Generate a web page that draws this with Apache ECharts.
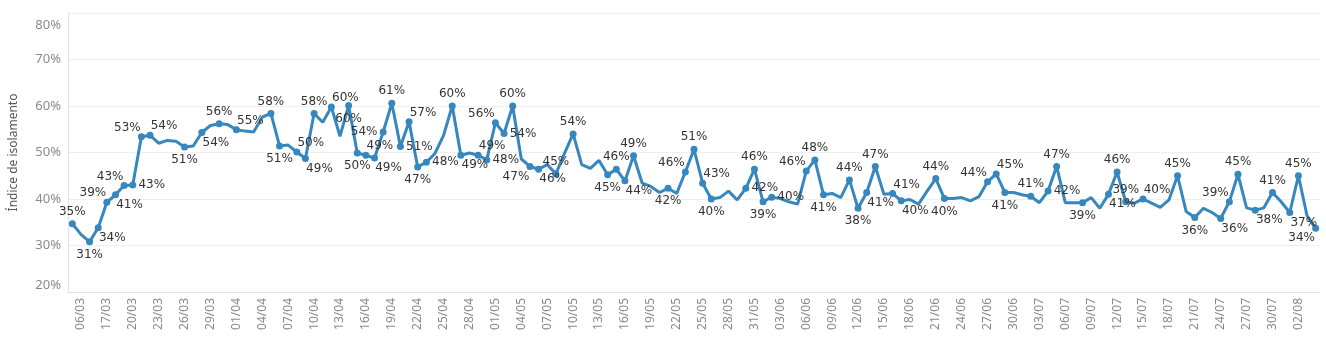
<!DOCTYPE html>
<html>
<head>
<meta charset="utf-8">
<script src="https://cdn.jsdelivr.net/npm/echarts@6/dist/echarts.min.js"></script>
<style>
  html, body { margin: 0; padding: 0; background: #fff; }
  #main { width: 1326px; height: 353px; }
</style>
</head>
<body>
<div id="main"></div>
<script>
// datas do eixo x: 05/03, 06/03, depois de 15/03 até 04/08
var datas = ['05/03', '06/03'];
var d = new Date(2020, 2, 15);
var fim = new Date(2020, 7, 4);
while (d <= fim) {
    var dd = ('0' + d.getDate()).slice(-2);
    var mm = ('0' + (d.getMonth() + 1)).slice(-2);
    datas.push(dd + '/' + mm);
    d.setDate(d.getDate() + 1);
}

// índice de isolamento (%) por dia
var indice = [
    34.7, 32.4, 30.8, 33.8, 39.3, 40.9, 42.9, 43.0, 53.4, 53.7,
    52.0, 52.6, 52.4, 51.2, 51.4, 54.3, 55.8, 56.2, 56.0, 54.9,
    54.6, 54.4, 57.6, 58.4, 51.4, 51.6, 50.1, 48.7, 58.4, 56.5,
    59.8, 53.5, 60.1, 49.9, 49.4, 48.8, 54.4, 60.6, 51.3, 56.6,
    46.9, 47.9, 49.8, 53.7, 60.0, 49.4, 49.9, 49.4, 48.4, 56.4,
    54.1, 60.0, 48.6, 47.0, 46.4, 47.4, 45.4, 49.8, 54.0, 47.4,
    46.6, 48.3, 45.2, 46.4, 43.9, 49.3, 43.4, 42.7, 41.4, 42.3,
    41.2, 45.8, 50.7, 43.4, 40.0, 40.3, 41.7, 39.8, 42.3, 46.4,
    39.4, 40.4, 40.1, 39.4, 38.9, 46.0, 48.4, 40.9, 41.2, 40.3,
    44.1, 38.0, 41.4, 47.0, 41.0, 41.2, 39.6, 39.9, 38.9, 41.7,
    44.4, 40.1, 40.1, 40.3, 39.6, 40.5, 43.7, 45.4, 41.4, 41.4,
    40.9, 40.6, 39.2, 41.7, 47.0, 39.2, 39.2, 39.2, 40.3, 38.0,
    41.0, 45.8, 39.4, 39.1, 40.0, 39.1, 38.2, 39.8, 45.0, 37.3,
    36.0, 38.0, 37.1, 35.8, 39.4, 45.3, 38.1, 37.6, 38.1, 41.4,
    39.4, 37.1, 45.0, 36.4, 33.7
];

// pontos que aparecem com rótulo
var rotulados = [0, 2, 3, 4, 5, 6, 7, 8, 9, 13, 15, 17, 19, 23, 24, 26, 27, 28,
    30, 32, 33, 34, 35, 36, 37, 38, 39, 40, 41, 44, 45, 47, 48, 49, 50, 51,
    53, 54, 56, 58, 62, 63, 64, 65, 69, 71, 72, 73, 74, 78, 79, 80, 81,
    85, 86, 87, 90, 91, 92, 93, 95, 96, 100, 101, 106, 107, 108, 111, 113,
    114, 117, 120, 121, 122, 124, 128, 130, 133, 134, 135, 137, 139, 141, 142, 144];

// eixo y
var yMin = 20, yMax = 80, yPasso = 10;

var COR = '#3787bf';
var SIMB = 7;

var myChart = echarts.init(document.getElementById('main'));

function montaPontos(posicoes) {
    return indice.map(function (v, i) {
        var temRotulo = rotulados.indexOf(i) >= 0;
        var item = { value: v, symbol: temRotulo ? 'circle' : 'none' };
        if (temRotulo && posicoes && posicoes[i]) {
            item.label = { show: true, position: posicoes[i], align: 'center', verticalAlign: 'middle' };
        } else {
            item.label = { show: false };
        }
        return item;
    });
}

var option = {
    animation: false,
    grid: { left: 66, right: 6, top: 13, bottom: 61 },
    xAxis: {
        type: 'category',
        data: datas,
        boundaryGap: true,
        axisLine: { show: true, lineStyle: { color: '#e2e2e2' } },
        axisTick: { show: false },
        axisLabel: {
            rotate: 90,
            margin: 6,
            color: '#8a8a8a',
            fontFamily: 'Noto Sans',
            fontSize: 12,
            interval: function (idx) { return idx % 3 === 1; }
        }
    },
    yAxis: {
        type: 'value',
        min: yMin,
        max: yMax,
        interval: yPasso,
        name: 'Índice de isolamento',
        nameLocation: 'middle',
        nameGap: 48,
        nameTextStyle: { color: '#555', fontFamily: 'Noto Sans', fontSize: 12 },
        axisLine: { show: true, lineStyle: { color: '#e2e2e2' } },
        axisTick: { show: false },
        splitLine: { lineStyle: { color: '#efefef' } },
        axisLabel: {
            formatter: function (v) {
                return v === yMax ? '{topo|' + v + '%}' : v + '%';
            },
            rich: {
                topo: { padding: [6, 0, 0, 0], color: '#8a8a8a', fontFamily: 'Noto Sans', fontSize: 13 }
            },
            margin: 7,
            color: '#8a8a8a',
            fontFamily: 'Noto Sans',
            fontSize: 13,
            verticalAlignMinLabel: 'bottom',
            verticalAlignMaxLabel: 'top'
        }
    },
    series: [{
        type: 'line',
        data: montaPontos(null),
        symbolSize: SIMB,
        showAllSymbol: true,
        lineStyle: { color: COR, width: 3 },
        itemStyle: { color: COR },
        label: {
            color: '#333',
            fontFamily: 'DejaVu Sans',
            fontSize: 12,
            formatter: function (p) { return Math.round(p.value) + '%'; }
        }
    }]
};

myChart.setOption(option);

// escolhe onde vai cada rótulo: evita outros rótulos e a própria linha
var px = indice.map(function (v, i) {
    return myChart.convertToPixel({ seriesIndex: 0 }, [i, v]);
});
var amostras = [];
for (var i = 0; i < px.length - 1; i++) {
    var a = px[i], b = px[i + 1];
    var n = Math.ceil(Math.hypot(b[0] - a[0], b[1] - a[1]) / 1.5);
    for (var k = 0; k <= n; k++) {
        amostras.push([a[0] + (b[0] - a[0]) * k / n, a[1] + (b[1] - a[1]) * k / n]);
    }
}
var W = 28, H = 13;
var colocados = [];
var posicoes = {};

function custo(cx, cy) {
    var x0 = cx - W / 2, x1 = cx + W / 2, y0 = cy - H / 2, y1 = cy + H / 2;
    var c = 0;
    colocados.forEach(function (r) {
        var ox = Math.min(x1, r[2]) - Math.max(x0, r[0]);
        var oy = Math.min(y1, r[3]) - Math.max(y0, r[1]);
        if (ox > 0 && oy > 0) c += 50 + ox * oy;
    });
    amostras.forEach(function (p) {
        if (p[0] > x0 - 1 && p[0] < x1 + 1 && p[1] > y0 - 1 && p[1] < y1 + 1) c += 1;
    });
    if (x1 > 1324) c += 500;
    return c;
}

rotulados.forEach(function (i) {
    var v = indice[i];
    var ant = i > 0 ? indice[i - 1] : null;
    var prox = i < indice.length - 1 ? indice[i + 1] : null;
    var C = {
        t: [0, -12], b: [0, 13],
        tl: [-14, -9], tr: [14, -9],
        bl: [-14, 10], br: [14, 10],
        l: [-19, 0], r: [19, 0]
    };
    var ordem;
    if (ant === null) ordem = ['t', 'tl', 'tr', 'b'];
    else if (prox === null) ordem = ['b', 'bl', 'l', 't'];
    else if (v >= ant && v >= prox) ordem = ['t', 'tl', 'tr', 'l', 'r', 'b'];
    else if (v <= ant && v <= prox) ordem = ['b', 'bl', 'br', 'l', 'r', 't'];
    else if (ant < v) ordem = ['tl', 'br', 'l', 't', 'b', 'r'];
    else ordem = ['tr', 'bl', 'r', 't', 'b', 'l'];
    var melhor = null, melhorCusto = Infinity;
    ordem.forEach(function (k, j) {
        var cx = px[i][0] + C[k][0], cy = px[i][1] + C[k][1];
        var c = custo(cx, cy) + j * 0.5;
        if (c < melhorCusto) { melhorCusto = c; melhor = [cx, cy]; }
    });
    colocados.push([melhor[0] - W / 2, melhor[1] - H / 2, melhor[0] + W / 2, melhor[1] + H / 2]);
    // posição relativa ao canto superior esquerdo do símbolo
    posicoes[i] = [melhor[0] - px[i][0] + SIMB / 2, melhor[1] - px[i][1] + SIMB / 2];
});

myChart.setOption({ series: [{ data: montaPontos(posicoes) }] });
</script>
</body>
</html>
